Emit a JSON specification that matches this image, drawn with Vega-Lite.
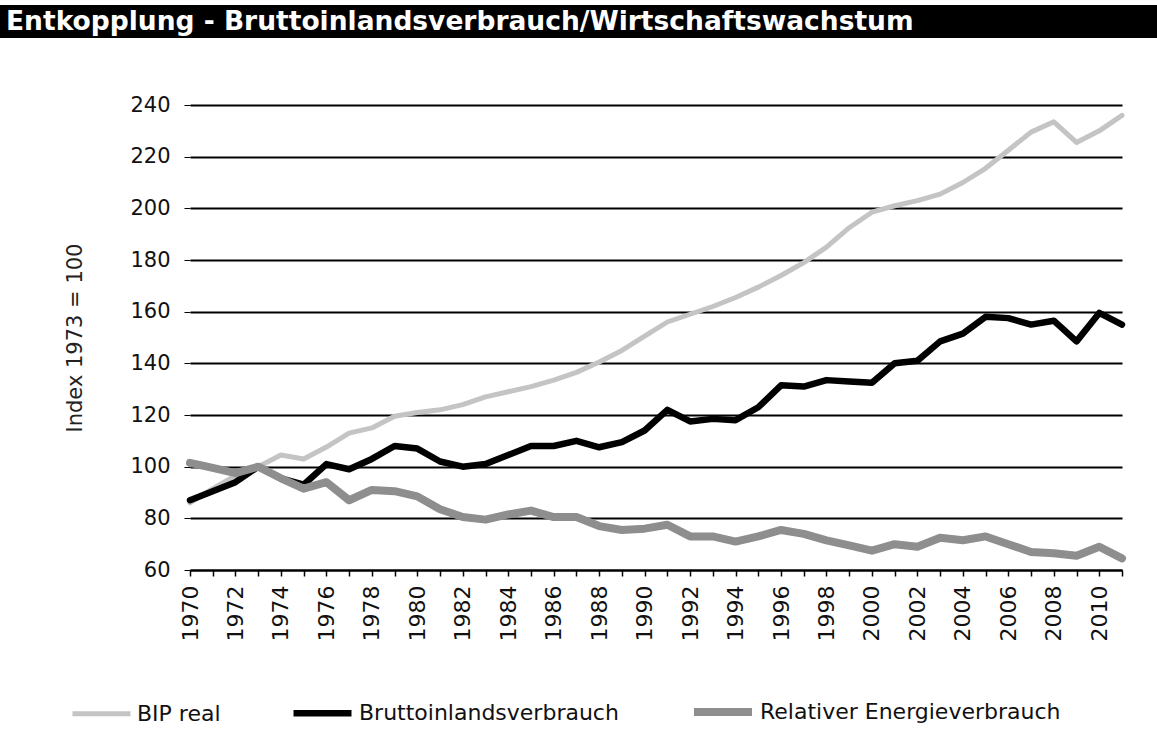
{
  "$schema": "https://vega.github.io/schema/vega-lite/v6.json",
  "padding": {"left": 0, "right": 0, "top": 5, "bottom": 0},
  "background": "white",
  "spacing": 56,
  "config": {"view": {"stroke": null}, "font": "DejaVu Sans"},
  "resolve": {"scale": {"color": "independent", "strokeWidth": "independent", "x": "independent"}},
  "vconcat": [
    {
      "width": 932,
      "height": 33,
      "data": {"values": [{"start": 0, "end": 1, "t": "Entkopplung - Bruttoinlandsverbrauch/Wirtschaftswachstum"}]},
      "layer": [
        {
          "mark": {"type": "rect", "color": "black"},
          "encoding": {
            "x": {"field": "start", "type": "quantitative", "scale": {"domain": [0, 1], "range": [-190, 967]}, "axis": null},
            "x2": {"field": "end"}
          }
        },
        {
          "mark": {"type": "text", "align": "left", "baseline": "middle", "dx": 6, "color": "white", "font": "DejaVu Sans", "fontWeight": "bold", "fontSize": 26.5},
          "encoding": {
            "x": {"field": "start", "type": "quantitative", "axis": null},
            "text": {"field": "t"}
          }
        }
      ]
    },
    {
      "width": 932,
      "height": 465,
      "data": {
        "values": [
          {"year": 1970, "BIP real": 86, "Bruttoinlandsverbrauch": 87, "Relativer Energieverbrauch": 101.5},
          {"year": 1971, "BIP real": 91.5, "Bruttoinlandsverbrauch": 90.5, "Relativer Energieverbrauch": 99.5},
          {"year": 1972, "BIP real": 96.5, "Bruttoinlandsverbrauch": 94, "Relativer Energieverbrauch": 97.5},
          {"year": 1973, "BIP real": 100, "Bruttoinlandsverbrauch": 100, "Relativer Energieverbrauch": 100},
          {"year": 1974, "BIP real": 104.5, "Bruttoinlandsverbrauch": 95.5, "Relativer Energieverbrauch": 95.5},
          {"year": 1975, "BIP real": 103, "Bruttoinlandsverbrauch": 93, "Relativer Energieverbrauch": 91.5},
          {"year": 1976, "BIP real": 107.6, "Bruttoinlandsverbrauch": 101, "Relativer Energieverbrauch": 94},
          {"year": 1977, "BIP real": 113, "Bruttoinlandsverbrauch": 99, "Relativer Energieverbrauch": 87},
          {"year": 1978, "BIP real": 115, "Bruttoinlandsverbrauch": 103, "Relativer Energieverbrauch": 91},
          {"year": 1979, "BIP real": 119.5, "Bruttoinlandsverbrauch": 108, "Relativer Energieverbrauch": 90.5},
          {"year": 1980, "BIP real": 121, "Bruttoinlandsverbrauch": 107, "Relativer Energieverbrauch": 88.5},
          {"year": 1981, "BIP real": 122, "Bruttoinlandsverbrauch": 102, "Relativer Energieverbrauch": 83.5},
          {"year": 1982, "BIP real": 124, "Bruttoinlandsverbrauch": 100, "Relativer Energieverbrauch": 80.5},
          {"year": 1983, "BIP real": 127, "Bruttoinlandsverbrauch": 101, "Relativer Energieverbrauch": 79.5},
          {"year": 1984, "BIP real": 129, "Bruttoinlandsverbrauch": 104.5, "Relativer Energieverbrauch": 81.5},
          {"year": 1985, "BIP real": 131, "Bruttoinlandsverbrauch": 108, "Relativer Energieverbrauch": 83},
          {"year": 1986, "BIP real": 133.5, "Bruttoinlandsverbrauch": 108, "Relativer Energieverbrauch": 80.5},
          {"year": 1987, "BIP real": 136.5, "Bruttoinlandsverbrauch": 110, "Relativer Energieverbrauch": 80.5},
          {"year": 1988, "BIP real": 140.5, "Bruttoinlandsverbrauch": 107.5, "Relativer Energieverbrauch": 77},
          {"year": 1989, "BIP real": 145, "Bruttoinlandsverbrauch": 109.5, "Relativer Energieverbrauch": 75.5},
          {"year": 1990, "BIP real": 150.5, "Bruttoinlandsverbrauch": 114, "Relativer Energieverbrauch": 76},
          {"year": 1991, "BIP real": 156, "Bruttoinlandsverbrauch": 122, "Relativer Energieverbrauch": 77.5},
          {"year": 1992, "BIP real": 159, "Bruttoinlandsverbrauch": 117.5, "Relativer Energieverbrauch": 73},
          {"year": 1993, "BIP real": 162, "Bruttoinlandsverbrauch": 118.5, "Relativer Energieverbrauch": 73},
          {"year": 1994, "BIP real": 165.5, "Bruttoinlandsverbrauch": 118, "Relativer Energieverbrauch": 71},
          {"year": 1995, "BIP real": 169.5, "Bruttoinlandsverbrauch": 123, "Relativer Energieverbrauch": 73},
          {"year": 1996, "BIP real": 174, "Bruttoinlandsverbrauch": 131.5, "Relativer Energieverbrauch": 75.5},
          {"year": 1997, "BIP real": 179, "Bruttoinlandsverbrauch": 131, "Relativer Energieverbrauch": 74},
          {"year": 1998, "BIP real": 185, "Bruttoinlandsverbrauch": 133.5, "Relativer Energieverbrauch": 71.5},
          {"year": 1999, "BIP real": 192.5, "Bruttoinlandsverbrauch": 133, "Relativer Energieverbrauch": 69.5},
          {"year": 2000, "BIP real": 198.5, "Bruttoinlandsverbrauch": 132.5, "Relativer Energieverbrauch": 67.5},
          {"year": 2001, "BIP real": 201, "Bruttoinlandsverbrauch": 140, "Relativer Energieverbrauch": 70},
          {"year": 2002, "BIP real": 203, "Bruttoinlandsverbrauch": 141, "Relativer Energieverbrauch": 69},
          {"year": 2003, "BIP real": 205.5, "Bruttoinlandsverbrauch": 148.5, "Relativer Energieverbrauch": 72.5},
          {"year": 2004, "BIP real": 210, "Bruttoinlandsverbrauch": 151.5, "Relativer Energieverbrauch": 71.5},
          {"year": 2005, "BIP real": 215.5, "Bruttoinlandsverbrauch": 158, "Relativer Energieverbrauch": 73},
          {"year": 2006, "BIP real": 222.5, "Bruttoinlandsverbrauch": 157.5, "Relativer Energieverbrauch": 70},
          {"year": 2007, "BIP real": 229.5, "Bruttoinlandsverbrauch": 155, "Relativer Energieverbrauch": 67},
          {"year": 2008, "BIP real": 233.5, "Bruttoinlandsverbrauch": 156.5, "Relativer Energieverbrauch": 66.5},
          {"year": 2009, "BIP real": 225.5, "Bruttoinlandsverbrauch": 148.5, "Relativer Energieverbrauch": 65.5},
          {"year": 2010, "BIP real": 230, "Bruttoinlandsverbrauch": 159.5, "Relativer Energieverbrauch": 69},
          {"year": 2011, "BIP real": 236, "Bruttoinlandsverbrauch": 155, "Relativer Energieverbrauch": 64.5}
        ]
      },
      "transform": [
        {"fold": ["BIP real", "Bruttoinlandsverbrauch", "Relativer Energieverbrauch"], "as": ["series", "value"]}
      ],
      "mark": {"type": "line", "strokeJoin": "round", "strokeCap": "round"},
      "encoding": {
        "x": {
          "field": "year",
          "type": "quantitative",
          "scale": {"domain": [1970, 2011], "nice": false, "zero": false},
          "axis": {
            "values": [1970,1971,1972,1973,1974,1975,1976,1977,1978,1979,1980,1981,1982,1983,1984,1985,1986,1987,1988,1989,1990,1991,1992,1993,1994,1995,1996,1997,1998,1999,2000,2001,2002,2003,2004,2005,2006,2007,2008,2009,2010,2011],
            "labelExpr": "datum.value % 2 == 0 ? datum.value : ''",
            "labelAngle": 270,
            "labelAlign": "right",
            "labelBaseline": "middle",
            "labelFontSize": 22,
            "labelFont": "DejaVu Sans",
            "labelColor": "#111",
            "labelPadding": 9,
            "labelOverlap": false,
            "labelBound": false,
            "labelFlush": false,
            "tickSize": 6,
            "tickColor": "black",
            "tickWidth": 1.5,
            "domainColor": "black",
            "domainWidth": 2,
            "grid": false,
            "title": null
          }
        },
        "y": {
          "field": "value",
          "type": "quantitative",
          "scale": {"domain": [60, 240], "nice": false, "zero": false},
          "axis": {
            "values": [60,80,100,120,140,160,180,200,220,240],
            "grid": true,
            "gridColor": "black",
            "gridWidth": 1.8,
            "gridOpacity": 1,
            "domain": false,
            "tickSize": 6,
            "tickColor": "black",
            "labelFontSize": 21,
            "labelFont": "DejaVu Sans",
            "labelColor": "#111",
            "labelPadding": 14,
            "title": "Index 1973 = 100",
            "titleFontSize": 21,
            "titleFont": "DejaVu Sans",
            "titleFontWeight": "normal",
            "titleColor": "#222",
            "titlePadding": 44
          }
        },
        "color": {
          "field": "series",
          "type": "nominal",
          "scale": {
            "domain": ["BIP real", "Bruttoinlandsverbrauch", "Relativer Energieverbrauch"],
            "range": ["#c4c4c4", "#000000", "#8e8e8e"]
          },
          "legend": {
            "title": null,
            "orient": "none",
            "legendX": -101,
            "legendY": 593,
            "direction": "horizontal",
            "symbolType": "M-2.9,0H2.9",
            "symbolSize": 400,
            "labelFontSize": 22,
            "labelFont": "DejaVu Sans",
            "labelColor": "#111",
            "labelLimit": 500,
            "labelOffset": 23,
            "columnPadding": 59
          }
        },
        "strokeWidth": {
          "field": "series",
          "type": "nominal",
          "scale": {
            "domain": ["BIP real", "Bruttoinlandsverbrauch", "Relativer Energieverbrauch"],
            "range": [5, 8, 5]
          },
          "legend": {
            "title": null,
            "orient": "none",
            "legendX": -101,
            "legendY": 593,
            "direction": "horizontal",
            "symbolType": "M-2.9,0H2.9",
            "symbolSize": 400,
            "labelFontSize": 22,
            "labelFont": "DejaVu Sans",
            "labelColor": "#111",
            "labelLimit": 500,
            "labelOffset": 23,
            "columnPadding": 59
          }
        }
      }
    }
  ]
}
